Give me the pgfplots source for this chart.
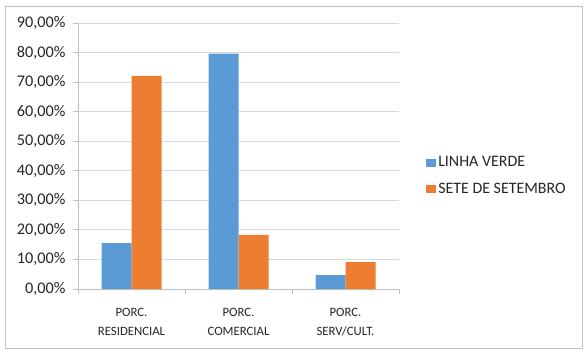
\documentclass[border=0pt]{standalone}
\usepackage{pgfplots}
\pgfplotsset{compat=1.18}
\usepackage{fontspec}
\setmainfont{Carlito}
\definecolor{cblue}{HTML}{5B9BD5}
\definecolor{corange}{HTML}{ED7D31}
\definecolor{gridc}{HTML}{D9D9D9}
\definecolor{axc}{HTML}{BFBFBF}
\definecolor{txt}{HTML}{262626}
\begin{document}
\begin{tikzpicture}[x=1bp,y=1bp]
\path[use as bounding box, fill=white] (0,0) rectangle (588,354);
\draw[color=axc, line width=0.8bp] (5,6) rectangle (582,348);
\begin{axis}[
  at={(78bp,65bp)}, anchor=south west,
  scale only axis, width=321bp, height=266bp,
  ybar=0pt, bar width=30bp,
  xmin=-0.5, xmax=2.5, ymin=0, ymax=90,
  xtick={0,1,2},
  xticklabels={{PORC.\\RESIDENCIAL},{PORC.\\COMERCIAL},{PORC.\\SERV/CULT.}},
  xticklabel style={align=center, font=\fontsize{12.8}{18.5}\selectfont, text=txt, yshift=-11bp},
  major x tick style={draw=none},
  minor xtick={-0.5,0.5,1.5,2.5},
  minor tick length=5bp,
  tick align=outside,
  ytick={0,10,...,90},
  major tick length=5bp,
  ymajorgrids, grid style={gridc, line width=0.8bp},
  axis x line*=bottom, axis y line*=left,
  axis line style={axc, line width=0.8bp},
  tick style={axc, line width=0.8bp},
  /pgf/number format/assume math mode=true,
  yticklabel={\pgfmathprintnumber[fixed,fixed zerofill,precision=2,use comma]{\tick}\%},
  yticklabel style={font=\fontsize{16.3}{17}\selectfont, text=txt, xshift=-4bp},
  legend style={at={(1.075,0.425)}, anchor=west, draw=none, fill=none,
    font=\fontsize{16}{18}\selectfont, text=txt, row sep=11bp,
    /tikz/every even column/.append style={column sep=1bp}},
  legend image code/.code={\fill[#1] (0bp,-4bp) rectangle (10bp,4bp);},
  legend cell align=left,
]
\addplot[fill=cblue, draw=none] coordinates {(0,15.5) (1,79.6) (2,4.7)};
\addplot[fill=corange, draw=none] coordinates {(0,72.1) (1,18.3) (2,9.1)};
\legend{LINHA VERDE, SETE DE SETEMBRO}
\end{axis}
\end{tikzpicture}
\end{document}
